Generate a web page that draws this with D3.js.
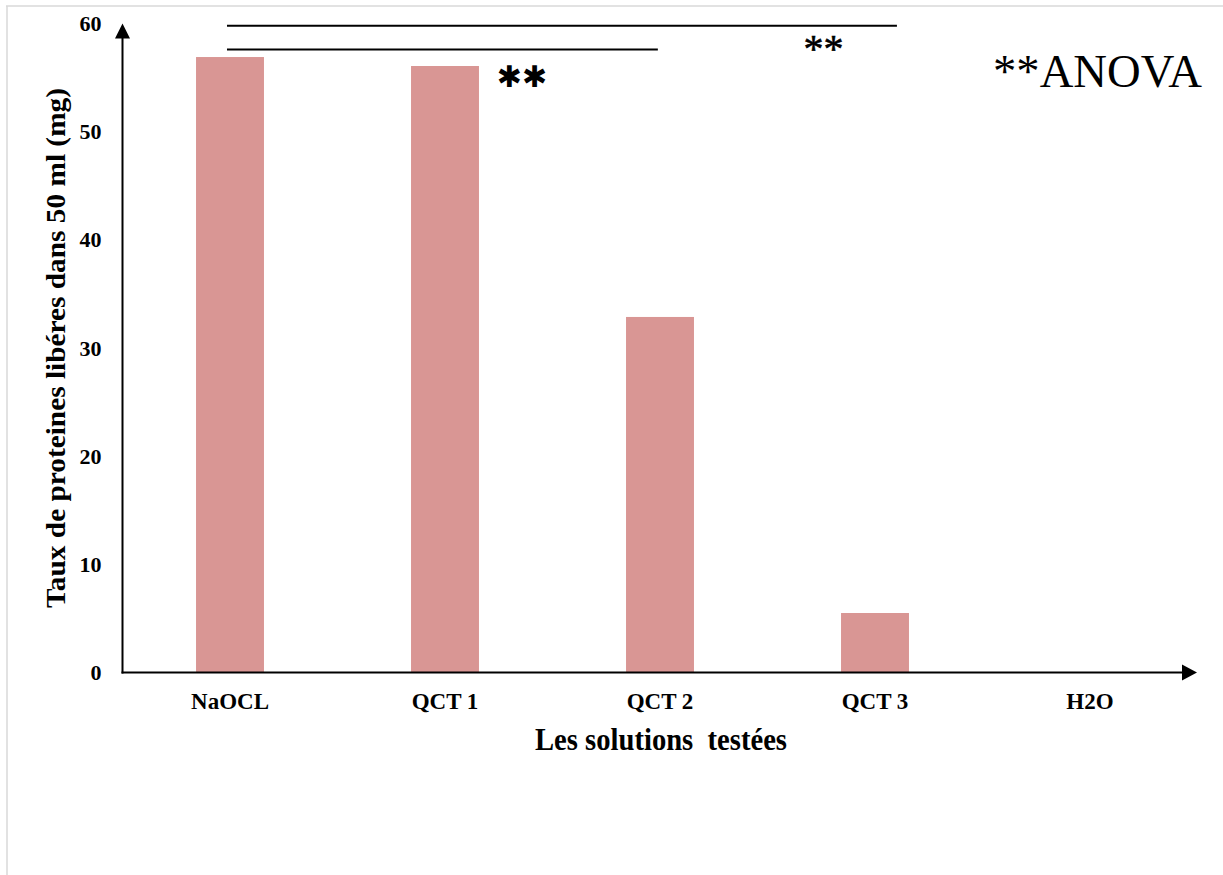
<!DOCTYPE html>
<html>
<head>
<meta charset="utf-8">
<script src="https://cdn.jsdelivr.net/npm/d3@7"></script>
<style>
  html, body { margin: 0; padding: 0; background: #fff; }
  svg { display: block; }
</style>
</head>
<body>
<script>
// ---- data ----
const categories = ["NaOCL", "QCT 1", "QCT 2", "QCT 3", "H2O"];
const values = [56.9, 56.07, 32.87, 5.5, 0];
const yTicks = [0, 10, 20, 30, 40, 50, 60];
const yTitle = "Taux de proteines libéres dans 50 ml (mg)";
const xTitle = "Les solutions  testées";
// significance brackets: from/to in category-index units, level in data units
const bracketFrom = [-0.014, -0.014];
const bracketTo = [3.102, 1.99];
const bracketLevel = [59.8, 57.6];
const legendText = "**ANOVA";

const W = 1223, H = 875;
const svg = d3.select("body").append("svg").attr("width", W).attr("height", H);

// frame lines (light grey)
svg.append("line").attr("x1", 6).attr("x2", W).attr("y1", 6).attr("y2", 6)
  .attr("stroke", "#d9d9d9").attr("stroke-width", 1.5);
svg.append("line").attr("x1", 7).attr("x2", 7).attr("y1", 6).attr("y2", H)
  .attr("stroke", "#d9d9d9").attr("stroke-width", 1.5);

const x = d3.scaleBand().domain(categories).range([122.5, 1197.5])
  .paddingInner(0.684).paddingOuter(0.342);
const y = d3.scaleLinear().domain([0, 60]).range([672.5, 23.5]);
const xi = d3.scaleLinear().domain([0, 1]).range([x(categories[0]) + x.bandwidth() / 2, x(categories[1]) + x.bandwidth() / 2]);

// bars
svg.append("g").selectAll("rect").data(values).join("rect")
  .attr("x", (d, i) => x(categories[i]))
  .attr("width", x.bandwidth())
  .attr("y", d => y(d))
  .attr("height", d => y(0) - y(d))
  .attr("fill", "#d99694");

// y axis (no tick marks)
const yAxis = svg.append("g").attr("transform", "translate(122.5,0)")
  .call(d3.axisLeft(y).tickValues(yTicks).tickSize(0).tickPadding(21));
yAxis.select(".domain").remove();
yAxis.selectAll("text").attr("font-family", "Liberation Serif, Times New Roman, serif")
  .attr("font-weight", "bold").attr("font-size", 22).attr("fill", "#000");

// x axis labels
const xAxis = svg.append("g").attr("transform", "translate(0,672.5)")
  .call(d3.axisBottom(x).tickSize(0).tickPadding(20));
xAxis.select(".domain").remove();
xAxis.selectAll("text").attr("font-family", "Liberation Serif, Times New Roman, serif")
  .attr("font-weight", "bold").attr("font-size", 23).attr("fill", "#000");

// axis lines with arrows
svg.append("line").attr("x1", 122.5).attr("x2", 122.5).attr("y1", y(0) + 1).attr("y2", y(60) + 14)
  .attr("stroke", "#000").attr("stroke-width", 2);
svg.append("path")
  .attr("d", `M${122.5},${y(60)} L${115},${y(60) + 15} L${130},${y(60) + 15} Z`)
  .attr("fill", "#000");
svg.append("line").attr("x1", 121.5).attr("x2", 1184).attr("y1", y(0)).attr("y2", y(0))
  .attr("stroke", "#000").attr("stroke-width", 2);
svg.append("path")
  .attr("d", `M1197,${y(0)} L1182,${y(0) - 8} L1182,${y(0) + 8} Z`)
  .attr("fill", "#000");

// brackets
svg.append("g").selectAll("line").data(bracketLevel).join("line")
  .attr("x1", (d, i) => xi(bracketFrom[i]))
  .attr("x2", (d, i) => xi(bracketTo[i]))
  .attr("y1", d => y(d)).attr("y2", d => y(d))
  .attr("stroke", "#000").attr("stroke-width", 2);

// stars
svg.append("text").attr("x", 522).attr("y", 76)
  .attr("text-anchor", "middle").attr("dominant-baseline", "central")
  .attr("font-family", "DejaVu Sans").attr("font-size", 30).attr("font-weight", "bold")
  .attr("fill", "#000").text("✱✱");
svg.append("text").attr("x", 823.5).attr("y", 62)
  .attr("text-anchor", "middle")
  .attr("font-family", "Liberation Serif, Times New Roman, serif").attr("font-size", 40)
  .attr("stroke", "#000").attr("stroke-width", 0.6)
  .attr("fill", "#000").text("**");

// ANOVA legend
svg.append("text").attr("x", 993).attr("y", 87)
  .attr("font-family", "Liberation Serif, Times New Roman, serif").attr("font-size", 46)
  .attr("textLength", 209).attr("lengthAdjust", "spacingAndGlyphs")
  .attr("fill", "#000").text(legendText);

// axis titles
svg.append("text").attr("x", 661).attr("y", 750)
  .attr("text-anchor", "middle")
  .style("white-space", "pre")
  .attr("font-family", "Liberation Serif, Times New Roman, serif").attr("font-size", 31)
  .attr("font-weight", "bold").attr("textLength", 252).attr("lengthAdjust", "spacingAndGlyphs")
  .attr("fill", "#000").text(xTitle);
svg.append("text")
  .attr("transform", "translate(65,348) rotate(-90)")
  .attr("text-anchor", "middle")
  .attr("font-family", "Liberation Serif, Times New Roman, serif").attr("font-size", 28)
  .attr("font-weight", "bold").attr("textLength", 520).attr("lengthAdjust", "spacingAndGlyphs")
  .attr("fill", "#000").text(yTitle);
</script>
</body>
</html>
